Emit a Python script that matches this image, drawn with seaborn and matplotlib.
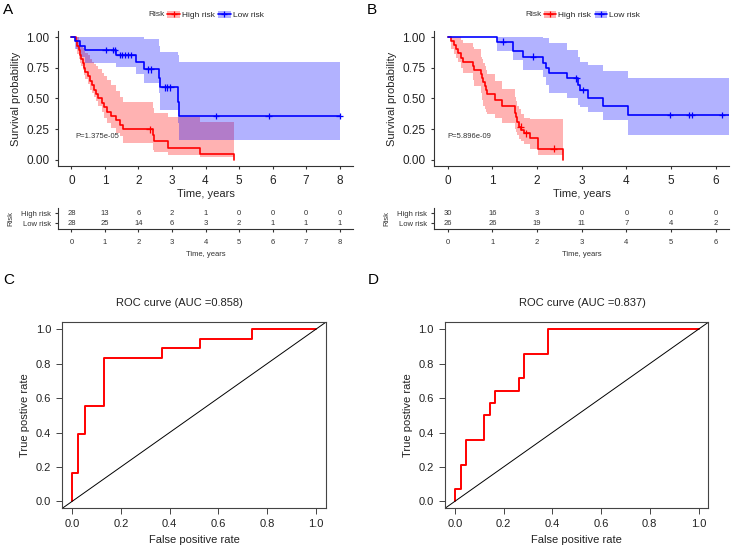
import numpy as np
import pandas as pd
import matplotlib
matplotlib.use("Agg")
import matplotlib.pyplot as plt
import seaborn as sns
from matplotlib.lines import Line2D
from matplotlib.patches import Patch

# ---------------- data ----------------
# Panel A: Kaplan-Meier by risk group
a_high_time = [0.00, 0.14, 0.18, 0.23, 0.27, 0.30, 0.34, 0.38, 0.42, 0.48, 0.55, 0.60, 0.66, 0.72,
               0.80, 0.90, 0.98, 1.06, 1.18, 1.32, 1.45, 1.54, 2.43, 2.47, 2.88, 3.84, 4.84]
a_high_surv = [1.000, 0.964, 0.929, 0.893, 0.857, 0.821, 0.786, 0.750, 0.714, 0.679, 0.643, 0.607, 0.571, 0.536,
               0.500, 0.464, 0.429, 0.393, 0.357, 0.321, 0.286, 0.248, 0.198, 0.149, 0.099, 0.050, 0.000]
a_high_lower = [1.00, 0.90, 0.86, 0.82, 0.79, 0.76, 0.73, 0.69, 0.66, 0.62, 0.57, 0.54, 0.51, 0.48,
                0.44, 0.39, 0.34, 0.30, 0.26, 0.22, 0.19, 0.14, 0.08, 0.06, 0.04, 0.02, 0.00]
a_high_upper = [1.00, 1.00, 1.00, 0.97, 0.95, 0.93, 0.91, 0.89, 0.87, 0.85, 0.82, 0.80, 0.78, 0.76,
                0.74, 0.71, 0.68, 0.65, 0.61, 0.56, 0.51, 0.47, 0.42, 0.38, 0.35, 0.31, 0.31]
a_high_censor = [2.33]

a_low_time = [0.00, 0.12, 0.25, 0.42, 1.34, 1.93, 2.18, 2.61, 2.65, 3.18, 3.22, 8.00]
a_low_surv = [1.000, 0.964, 0.929, 0.893, 0.853, 0.800, 0.737, 0.670, 0.590, 0.470, 0.357, 0.357]
a_low_lower = [1.00, 0.90, 0.84, 0.785, 0.758, 0.70, 0.622, 0.54, 0.405, 0.30, 0.16, 0.16]
a_low_upper = [1.00, 1.00, 1.00, 1.00, 1.00, 1.00, 0.98, 0.93, 0.88, 0.85, 0.80, 0.80]
a_low_censor = [1.02, 1.24, 1.29, 1.44, 1.52, 1.59, 1.69, 1.79, 2.28, 2.38, 2.78, 2.86, 2.95, 4.31, 5.88, 8.00]

a_table_times = [0, 1, 2, 3, 4, 5, 6, 7, 8]
a_high_at_risk = [28, 13, 6, 2, 1, 0, 0, 0, 0]
a_low_at_risk = [28, 25, 14, 6, 3, 2, 1, 1, 1]
a_pvalue = "P=1.375e-05"

# Panel B: Kaplan-Meier by risk group
b_high_time = [0.00, 0.07, 0.13, 0.19, 0.24, 0.30, 0.35, 0.56, 0.58, 0.74, 0.76, 0.80, 0.83,
               0.86, 0.89, 1.06, 1.21, 1.51, 1.53, 1.56, 1.60, 1.65, 1.70, 1.84, 2.01, 2.57]
b_high_surv = [1.000, 0.967, 0.933, 0.900, 0.867, 0.833, 0.800, 0.767, 0.733, 0.700, 0.667, 0.633, 0.600,
               0.567, 0.533, 0.490, 0.435, 0.385, 0.345, 0.310, 0.270, 0.240, 0.215, 0.180, 0.090, 0.000]
b_high_lower = [1.00, 0.90, 0.86, 0.83, 0.80, 0.75, 0.71, 0.65, 0.60, 0.54, 0.49, 0.44, 0.41,
                0.39, 0.37, 0.34, 0.30, 0.25, 0.23, 0.20, 0.17, 0.15, 0.13, 0.09, 0.04, 0.00]
b_high_upper = [1.00, 1.00, 1.00, 1.00, 1.00, 0.975, 0.95, 0.92, 0.90, 0.84, 0.82, 0.785, 0.76,
                0.73, 0.70, 0.64, 0.58, 0.51, 0.48, 0.44, 0.41, 0.37, 0.34, 0.33, 0.33, 0.33]
b_high_censor = [1.63, 1.75, 2.37]

b_low_time = [0.00, 1.10, 1.47, 1.69, 2.14, 2.20, 2.27, 2.66, 2.92, 2.96, 3.14, 3.48, 4.04, 6.30]
b_low_surv = [1.000, 0.962, 0.885, 0.840, 0.790, 0.750, 0.709, 0.663, 0.609, 0.568, 0.500, 0.438, 0.364, 0.364]
b_low_lower = [1.00, 0.89, 0.81, 0.73, 0.676, 0.609, 0.54, 0.50, 0.45, 0.43, 0.39, 0.324, 0.20, 0.20]
b_low_upper = [1.00, 1.00, 1.00, 1.00, 0.99, 0.99, 0.95, 0.894, 0.84, 0.80, 0.77, 0.72, 0.67, 0.67]
b_low_censor = [1.24, 1.91, 2.88, 3.02, 4.97, 5.40, 5.46, 6.14]

b_table_times = [0, 1, 2, 3, 4, 5, 6]
b_high_at_risk = [30, 16, 3, 0, 0, 0, 0]
b_low_at_risk = [26, 26, 19, 11, 7, 4, 2]
b_pvalue = "P=5.896e-09"

# Panel C / D: ROC curves
c_fpr = [0.0, 0.0, 0.026, 0.026, 0.053, 0.053, 0.132, 0.132, 0.368, 0.368, 0.526, 0.526, 0.737, 0.737, 1.0]
c_tpr = [0.0, 0.167, 0.167, 0.389, 0.389, 0.556, 0.556, 0.833, 0.833, 0.889, 0.889, 0.944, 0.944, 1.0, 1.0]
c_auc = 0.858

d_fpr = [0.0, 0.0, 0.024, 0.024, 0.048, 0.048, 0.119, 0.119, 0.143, 0.143, 0.167, 0.167,
         0.262, 0.262, 0.286, 0.286, 0.381, 0.381, 1.0]
d_tpr = [0.0, 0.071, 0.071, 0.214, 0.214, 0.357, 0.357, 0.500, 0.500, 0.571, 0.571, 0.643,
         0.643, 0.714, 0.714, 0.857, 0.857, 1.0, 1.0]
d_auc = 0.837

groups = ["High risk", "Low risk"]
palette = {"High risk": "#FF0000", "Low risk": "#0000FF"}

# ---------------- style ----------------
sns.set_theme(style="ticks")
plt.rcParams["font.family"] = ["Liberation Sans", "DejaVu Sans"]
plt.rcParams["axes.linewidth"] = 0.8
INK = "#333333"

W, H = 732, 550
fig = plt.figure(figsize=(W / 100, H / 100), dpi=100)


def px_axes(x0, y0, x1, y1):
    """Axes placed by pixel box (top-left origin)."""
    return fig.add_axes([x0 / W, 1 - y1 / H, (x1 - x0) / W, (y1 - y0) / H])


def step_value(time, surv, t):
    idx = np.searchsorted(time, t, side="right") - 1
    return np.asarray(surv)[idx]


def draw_km(ax, curves, xlim, xticks, pvalue):
    frames, cens = [], []
    for name, (t, s, lo, hi, c) in zip(groups, curves):
        ax.fill_between(t, lo, hi, step="post", color=palette[name], alpha=0.3, lw=0)
        frames.append(pd.DataFrame({"time": t, "surv": s, "Risk": name}))
        cens.append(pd.DataFrame({"time": c, "surv": step_value(t, s, c), "Risk": name}))
    sns.lineplot(data=pd.concat(frames), x="time", y="surv", hue="Risk", hue_order=groups,
                 palette=palette, drawstyle="steps-post", estimator=None, sort=False,
                 lw=1.2, legend=False, ax=ax)
    sns.scatterplot(data=pd.concat(cens), x="time", y="surv", hue="Risk", hue_order=groups,
                    palette=palette, marker="+", s=22, linewidth=0.9, legend=False, ax=ax)
    ax.text(0.0 if xlim[1] < 7 else 0.13, 0.19, pvalue, fontsize=5.5, color=INK, va="center")
    ax.set_xlim(*xlim)
    ax.set_ylim(-0.049, 1.049)
    ax.set_xticks(xticks)
    ax.set_yticks([0, 0.25, 0.5, 0.75, 1.0])
    ax.set_yticklabels(["0.00", "0.25", "0.50", "0.75", "1.00"])
    ax.set_xlabel("Time, years", fontsize=8, labelpad=1.5)
    ax.set_ylabel("Survival probability", fontsize=8, labelpad=4)
    ax.tick_params(length=2.3, width=0.8, color=INK, labelsize=8.5, labelcolor="#222222", pad=4)
    for sp in ["top", "right"]:
        ax.spines[sp].set_visible(False)
    for sp in ["left", "bottom"]:
        ax.spines[sp].set_color(INK)


def draw_table(ax, times, high, low, xlim):
    for t, h, l in zip(times, high, low):
        ax.text(t, 1, str(h), ha="center", va="center", fontsize=5.5, color=INK)
        ax.text(t, 0, str(l), ha="center", va="center", fontsize=5.5, color=INK)
    ax.set_xlim(*xlim)
    ax.set_ylim(-0.6, 1.5)
    ax.set_xticks(times)
    ax.set_yticks([1, 0])
    ax.set_yticklabels(groups)
    for lab, name in zip(ax.get_yticklabels(), groups):
        lab.set_color(palette[name])
    ax.tick_params(length=2.3, width=0.8, color=INK, labelsize=5.5, labelcolor=INK)
    ax.tick_params(axis="x", pad=4.5)
    ax.tick_params(axis="y", pad=3)
    ax.set_xlabel("Time, years", fontsize=5.5, labelpad=4, color=INK)
    ax.set_ylabel("Risk", fontsize=5.5, labelpad=4.5, color=INK)
    for sp in ["top", "right"]:
        ax.spines[sp].set_visible(False)
    for sp in ["left", "bottom"]:
        ax.spines[sp].set_color(INK)


def draw_legend(ax, center_x, risk_x):
    handles = [(Patch(facecolor=palette[g], alpha=0.3, lw=0),
                Line2D([], [], color=palette[g], lw=1.2, marker="+", ms=5, mew=0.9)) for g in groups]
    ax.legend(handles, groups, ncol=2, loc="center", frameon=False, fontsize=6,
              bbox_to_anchor=(center_x / W, 1 - 15 / H), bbox_transform=fig.transFigure,
              handlelength=1.5, handleheight=1.0, handletextpad=0.25, columnspacing=0.4,
              borderaxespad=0, borderpad=0)
    fig.text(risk_x / W, 1 - 15 / H, "Risk", fontsize=6, color=INK, va="center", ha="left")


def draw_roc(ax, fpr, tpr, auc, title_x):
    sns.lineplot(x=fpr, y=tpr, color="#FF0000", lw=1.4, estimator=None, sort=False, ax=ax)
    ax.axline((0, 0), (1, 1), color="black", lw=0.7)
    ax.set_xlim(-0.04, 1.04)
    ax.set_ylim(-0.04, 1.04)
    ticks = [0.0, 0.2, 0.4, 0.6, 0.8, 1.0]
    ax.set_xticks(ticks)
    ax.set_yticks(ticks)
    ax.set_xticklabels([f"{v:.1f}" for v in ticks])
    ax.set_yticklabels([f"{v:.1f}" for v in ticks])
    ax.tick_params(length=4, width=0.7, color="#444444", labelsize=8, labelcolor="#222222", pad=4)
    ax.set_xlabel("False positive rate", fontsize=8, labelpad=4, color="#222222")
    ax.set_ylabel("True postive rate", fontsize=8, labelpad=4, color="#222222")
    for sp in ax.spines.values():
        sp.set_color("#444444")
        sp.set_linewidth(0.8)
    fig.text(title_x / W, 1 - 302.7 / H, f"ROC curve (AUC ={auc:.3f})", fontsize=8,
             color="#222222", ha="center", va="center")


# ---------------- panel A ----------------
ax_a = px_axes(58, 31, 353, 165.8)
draw_km(ax_a,
        [(a_high_time, a_high_surv, a_high_lower, a_high_upper, a_high_censor),
         (a_low_time, a_low_surv, a_low_lower, a_low_upper, a_low_censor)],
        (-0.4, 8.4), a_table_times, a_pvalue)
draw_legend(ax_a, 215.5, 148)
tab_a = px_axes(58, 208.3, 353, 229.3)
draw_table(tab_a, a_table_times, a_high_at_risk, a_low_at_risk, (-0.4, 8.4))

# ---------------- panel B ----------------
ax_b = px_axes(434.3, 31, 729.3, 165.8)
draw_km(ax_b,
        [(b_high_time, b_high_surv, b_high_lower, b_high_upper, b_high_censor),
         (b_low_time, b_low_surv, b_low_lower, b_low_upper, b_low_censor)],
        (-0.3, 6.3), b_table_times, b_pvalue)
draw_legend(ax_b, 592, 525)
tab_b = px_axes(434.3, 208.3, 729.3, 229.3)
draw_table(tab_b, b_table_times, b_high_at_risk, b_low_at_risk, (-0.3, 6.3))

# ---------------- panels C and D ----------------
ax_c = px_axes(62.3, 322.3, 325.7, 508.3)
draw_roc(ax_c, c_fpr, c_tpr, c_auc, 179.5)
ax_d = px_axes(445, 322.3, 708.3, 508.3)
draw_roc(ax_d, d_fpr, d_tpr, d_auc, 582.3)

# panel letters
for letter, x, y in [("A", 3, 3), ("B", 367, 3), ("C", 3, 273), ("D", 368, 273)]:
    fig.text(x / W, 1 - y / H, letter, fontsize=11, color="black", ha="left", va="top")

fig.savefig("out.png", dpi=100)
